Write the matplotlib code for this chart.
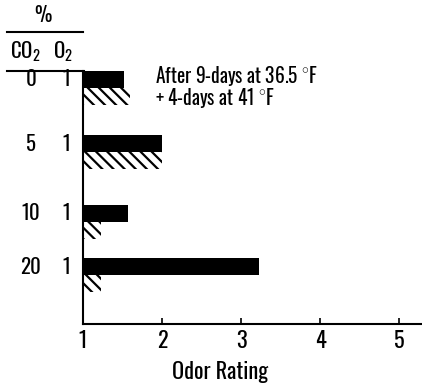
import matplotlib
matplotlib.use("Agg")
import matplotlib.pyplot as plt
from matplotlib.lines import Line2D

co2 = ["0", "5", "10", "20"]
o2 = ["1", "1", "1", "1"]
solid_vals = [1.52, 2.0, 1.57, 3.23]
hatched_vals = [1.6, 2.0, 1.23, 1.23]
xticks = [1, 2, 3, 4, 5]
xlabel = "Odor Rating"
note = ["After 9-days at 36.5 $^{\\circ}$F", "+ 4-days at 41 $^{\\circ}$F"]

# layout: vertical offsets of groups (pixels from axis top)
group_pos = [17, 81, 151, 204]
bar_h = 17

plt.rcParams['hatch.linewidth'] = 1.6
plt.rcParams['mathtext.fontset'] = 'custom'
plt.rcParams['mathtext.rm'] = 'Oswald:medium'
plt.rcParams['mathtext.it'] = 'Oswald:medium'
plt.rcParams['mathtext.bf'] = 'Oswald:medium'
plt.rcParams['mathtext.sf'] = 'Oswald:medium'
FONT = dict(family=["Oswald", "DejaVu Sans"], weight=500)

fig = plt.figure(figsize=(4.22, 3.84), dpi=100)
W, H = 422, 384
ax_left, ax_top, ax_bottom = 83, 71, 324
ax = fig.add_axes([ax_left / W, 1 - ax_bottom / H, 1 - ax_left / W, (ax_bottom - ax_top) / H])
ax.set_xlim(1, 1 + (W - ax_left) / 79.0)
ax.set_ylim(ax_bottom - ax_top, 0)

for g, s, h in zip(group_pos, solid_vals, hatched_vals):
    ax.barh(g - bar_h / 2, s - 1, left=1, height=bar_h, color="black", edgecolor="none")
    ax.barh(g + bar_h / 2, h - 1, left=1, height=bar_h, color="white", edgecolor="black",
            hatch="\\\\\\", linewidth=0)

for sp in ["top", "right"]:
    ax.spines[sp].set_visible(False)
ax.spines["left"].set_linewidth(1.5)
ax.spines["bottom"].set_linewidth(1.5)
ax.set_yticks([])
ax.set_xticks(xticks)
ax.set_xticklabels([str(t) for t in xticks], fontsize=16, **FONT)
ax.tick_params(axis="x", direction="in", length=4, width=1.2, pad=4)
ax.set_xlabel(xlabel, fontsize=16, **FONT)
ax.xaxis.set_label_coords((220 - ax_left) / (W - ax_left), -0.145)

# row labels
for g, c, o in zip(group_pos, co2, o2):
    yfig = 1 - (ax_top + g - bar_h / 2) / H
    fig.text(31 / W, yfig, c, ha="center", va="center", fontsize=15, **FONT)
    fig.text(66 / W, yfig, o, ha="center", va="center", fontsize=15, **FONT)

# header
fig.text(43 / W, 1 - 15 / H, "%", ha="center", va="center", fontsize=14, **FONT)
fig.text(25 / W, 1 - 52 / H, "CO$_\\mathrm{2}$", ha="center", va="center", fontsize=15, **FONT)
fig.text(63 / W, 1 - 52 / H, "O$_\\mathrm{2}$", ha="center", va="center", fontsize=15, **FONT)
fig.add_artist(Line2D([7 / W, 83 / W], [1 - 32 / H, 1 - 32 / H], color="black", lw=1.5,
                      transform=fig.transFigure))
fig.add_artist(Line2D([7 / W, 84 / W], [1 - 71 / H, 1 - 71 / H], color="black", lw=1.5,
                      transform=fig.transFigure))

# note
fig.text(155 / W, 1 - 76 / H, note[0], ha="left", va="center", fontsize=14, **FONT)
fig.text(155 / W, 1 - 98 / H, note[1], ha="left", va="center", fontsize=14, **FONT)

fig.savefig("out.png", dpi=100)
